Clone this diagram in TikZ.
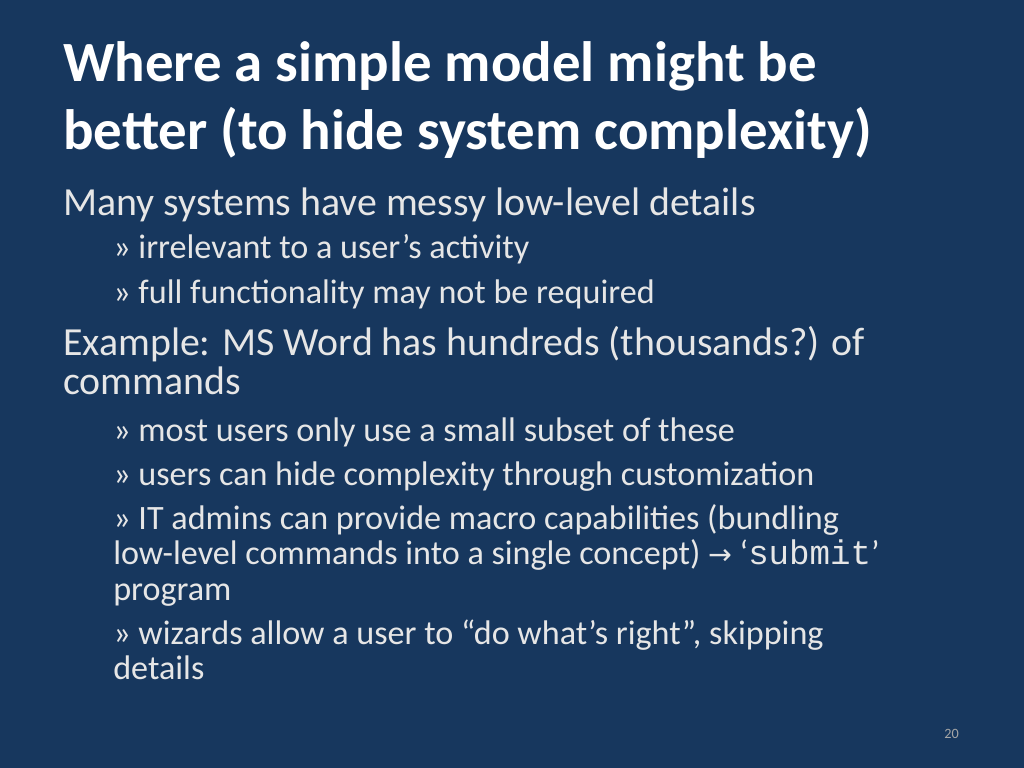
\documentclass[tikz,border=0pt]{standalone}
\usepackage{fontspec}
\setmainfont{Carlito}
\setmonofont{Liberation Mono}
\newfontfamily\symfont{DejaVu Sans}
\definecolor{slidebg}{HTML}{17375E}
\definecolor{bodytext}{HTML}{E6E6E6}
\begin{document}
\begin{tikzpicture}[x=0.703125pt,y=-0.703125pt]
	\tikzstyle{line} = [anchor=base west,inner sep=0pt,text=bodytext]
	\tikzstyle{titleline} = [line,text=white,font=\fontsize{40}{48}\selectfont\bfseries]
	\tikzstyle{mainline} = [line,font=\fontsize{28}{34}\selectfont]
	\tikzstyle{subline} = [line,font=\fontsize{24}{29}\selectfont]

	\def\subx{113}

	% BACKGROUND %
	\fill[slidebg] (0,0) rectangle (1024,768);

	% TITLE %
	\node[titleline] (t1) at (63,82) {Where a simple model might be};
	\node[titleline] (t2) at (63,150) {better (to hide system complexity)};

	% BODY %
	\node[mainline] (many) at (63,216) {Many systems have messy low-level details};
	\node[subline] (irr) at (\subx,259) {» irrelevant to a user’s activity};
	\node[subline] (full) at (\subx,304) {» full functionality may not be required};
	\node[mainline] (ex) at (63,355) {Example: MS Word has hundreds (thousands?) of};
	\node[mainline] (cmds) at (63,394) {commands};
	\node[subline] (most) at (\subx,441) {» most users only use a small subset of these};
	\node[subline] (hide) at (\subx,485) {» users can hide complexity through customization};
	\node[subline] (it1) at (\subx,529) {» IT admins can provide macro capabilities (bundling};
	\node[subline] (it2) at (\subx,564) {low-level commands into a single concept) {\symfont\fontsize{20}{24}\selectfont →} ‘{\ttfamily submit}’};
	\node[subline] (it3) at (\subx,600) {program};
	\node[subline] (wiz1) at (\subx,644) {» wizards allow a user to “do what’s right”, skipping};
	\node[subline] (wiz2) at (\subx,679) {details};

	% PAGE NUMBER %
	\node[line,font=\fontsize{10}{12}\selectfont,text=gray!70] (num) at (944,738) {20};
\end{tikzpicture}
\end{document}
